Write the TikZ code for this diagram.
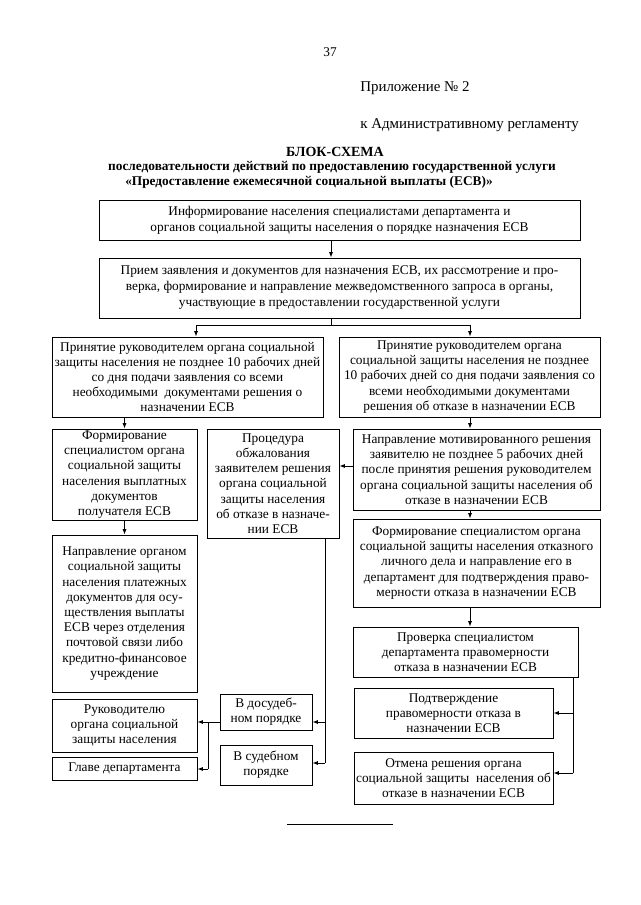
\documentclass[tikz,border=0pt]{standalone}
\usepackage{fontspec}
\setmainfont{Liberation Serif}
\usetikzlibrary{arrows.meta}
\tikzset{
  box/.style={draw, line width=0.65pt, align=center, inner sep=0pt, font=\fontsize{10}{11.4}\selectfont},
  arr/.style={line width=0.65pt, -{Latex[length=4pt,width=3pt]}},
  ln/.style={line width=0.65pt},
  hdr/.style={inner sep=0pt, font=\fontsize{11.2}{14}\selectfont},
  ttl/.style={inner sep=0pt, font=\bfseries\fontsize{10}{12}\selectfont}
}
\begin{document}
\begin{tikzpicture}[x=0.75pt,y=-0.75pt]
\useasboundingbox (0,0) rectangle (640,905);
% header
\node[inner sep=0pt, font=\fontsize{10}{12}\selectfont] (pnum) at (330,52) {37};
\node[hdr, anchor=west] (app) at (360,88) {Приложение № 2};
\node[hdr, anchor=west] (reg) at (360,125) {к Административному регламенту};
\node[ttl, font=\bfseries\fontsize{10.5}{12}\selectfont] (t1) at (335,152) {БЛОК-СХЕМА};
\node[ttl] (t2) at (332,167) {последовательности действий по предоставлению государственной услуги};
\node[ttl, anchor=west] (t3) at (125,182) {«Предоставление ежемесячной социальной выплаты (ЕСВ)»};
% boxes
\node[box, minimum width=360.75pt, minimum height=30pt, font=\fontsize{10}{12}\selectfont] (b1) at (339.5,220)
 {Информирование населения специалистами департамента и\\органов социальной защиты населения о порядке назначения ЕСВ};
\node[box, minimum width=360.75pt, minimum height=45pt, font=\fontsize{10}{12}\selectfont] (b2) at (339.5,288)
 {Прием заявления и документов для назначения ЕСВ, их рассмотрение и про-\\верка, формирование и направление межведомственного запроса в органы,\\участвующие в предоставлении государственной услуги};
\node[box, minimum width=203.25pt, minimum height=60pt] (b3l) at (187.5,377)
 {Принятие руководителем органа социальной\\защиты населения не позднее 10 рабочих дней\\со дня подачи заявления со всеми\\необходимыми\ \ документами решения о\\назначении ЕСВ};
\node[box, minimum width=195.75pt, minimum height=60pt] (b3r) at (469.5,377)
 {Принятие руководителем органа\\социальной защиты населения не позднее\\10 рабочих дней со дня подачи заявления со\\всеми необходимыми документами\\решения об отказе в назначении ЕСВ};
\node[box, minimum width=108.75pt, minimum height=68.25pt] (b4l) at (124.5,474.5)
 {Формирование\\специалистом органа\\социальной защиты\\населения выплатных\\документов\\получателя ЕСВ};
\node[box, minimum width=99pt, minimum height=81.75pt] (b4m) at (273,483.5)
 {Процедура\\обжалования\\заявителем решения\\органа социальной\\защиты населения\\об отказе в назначе-\\нии ЕСВ};
\node[box, minimum width=185.25pt, minimum height=60.75pt] (b4r) at (476.5,469.5)
 {Направление мотивированного решения\\заявителю не позднее 5 рабочих дней\\после принятия решения руководителем\\органа социальной защиты населения об\\отказе в назначении ЕСВ};
\node[box, minimum width=185.25pt, minimum height=66pt] (b5r) at (476.5,563)
 {Формирование специалистом органа\\социальной защиты населения отказного\\личного дела и направление его в\\департамент для подтверждения право-\\мерности отказа в назначении ЕСВ};
\node[box, minimum width=168.75pt, minimum height=37.5pt] (b6r) at (465.5,652)
 {Проверка специалистом\\департамента правомерности\\отказа в назначении ЕСВ};
\node[box, minimum width=149.25pt, minimum height=37.5pt] (b7r) at (453.5,713)
 {Подтверждение\\правомерности отказа в\\назначении ЕСВ};
\node[box, minimum width=149.25pt, minimum height=39pt] (b8r) at (453.5,778)
 {Отмена решения органа\\социальной защиты\ \ населения об\\отказе в назначении ЕСВ};
\node[box, minimum width=108.75pt, minimum height=117.75pt] (b4l2) at (124.5,613.5)
 {Направление органом\\социальной защиты\\населения платежных\\документов для осу-\\ществления выплаты\\ЕСВ через отделения\\почтовой связи либо\\кредитно-финансовое\\учреждение};
\node[box, minimum width=108.75pt, minimum height=39.75pt] (ruk) at (124.5,725.5)
 {Руководителю\\органа социальной\\защиты населения};
\node[box, minimum width=108.75pt, minimum height=17.25pt] (glave) at (124.5,768.5)
 {Главе департамента};
\node[box, minimum width=69pt, minimum height=27pt] (dosud) at (266,712)
 {В досудеб-\\ном порядке};
\node[box, minimum width=69pt, minimum height=30pt] (sud) at (266,765)
 {В судебном\\порядке};
% helper coordinates
\coordinate (xa) at (331,0);
\coordinate (br) at (331,325);
\coordinate (bl) at (196,325);
\coordinate (brr) at (470,325);
\coordinate (xr) at (470,0);
\coordinate (y466) at (0,466);
\coordinate (vm) at (325,763);
\coordinate (y722) at (0,722);
\coordinate (vj) at (208,769);
\coordinate (v6) at (573,773);
% connectors
\draw[arr] (b1.south -| xa) -- (b2.north -| xa);
\draw[ln] (b2.south -| br) -- (br);
\draw[arr] (br) -| (b3l.north -| bl);
\draw[arr] (br) -| (b3r.north -| brr);
\draw[arr] (b3l.south -| b4l.north) -- (b4l.north);
\draw[arr] (b4l.south) -- (b4l2.north);
\draw[arr] (b3r.south -| xr) -- (b4r.north -| xr);
\draw[arr] (b4r.south -| xr) -- (b5r.north -| xr);
\draw[arr] (b5r.south -| xr) -- (b6r.north -| xr);
\draw[arr] (b4r.west |- y466) -- (b4m.east |- y466);
\draw[ln] (b4m.south -| vm) -- (vm);
\draw[arr] (vm |- y722) -- (dosud.east |- y722);
\draw[arr] (vm) -- (sud.east |- vm);
\draw[arr] (dosud.west |- y722) -- (ruk.east |- y722);
\draw[ln] (vj |- y722) -- (vj);
\draw[arr] (vj) -- (glave.east |- vj);
\draw[ln] (b6r.south -| v6) -- (v6);
\draw[arr] (v6 |- b7r.east) -- (b7r.east);
\draw[arr] (v6) -- (b8r.east |- v6);
% footnote rule
\draw[ln] (287,824) -- (393,824);
\end{tikzpicture}
\end{document}
